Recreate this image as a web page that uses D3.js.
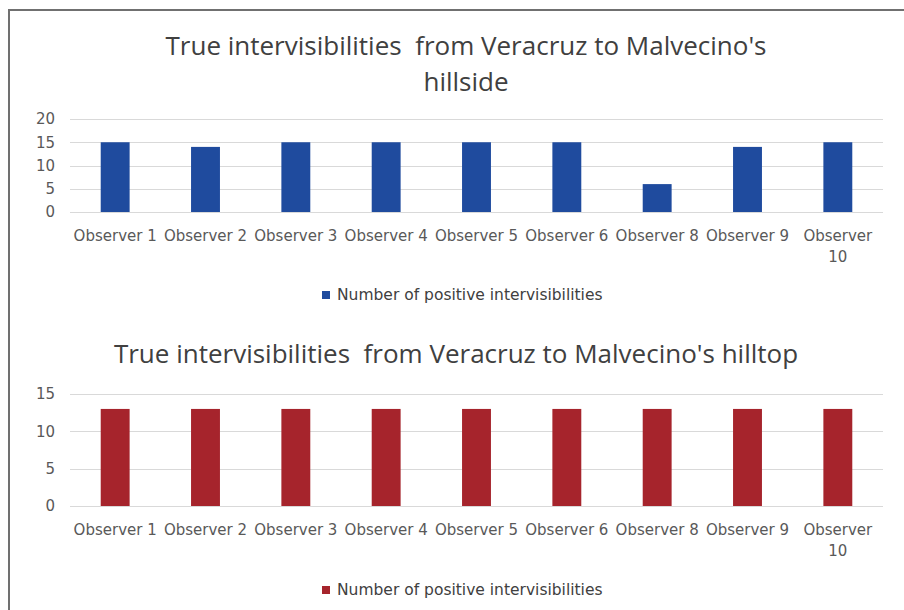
<!DOCTYPE html>
<html lang="en">
<head>
<meta charset="UTF-8">
<title>True intervisibilities from Veracruz to Malvecino</title>
<script src="https://cdnjs.cloudflare.com/ajax/libs/d3/7.8.5/d3.min.js"></script>
<style>
    body { margin: 0; background: #ffffff; }
    svg { display: block; font-family: 'Open Sans', sans-serif; }
    .grid line { stroke: #d9d9d9; stroke-width: 1px; }
    .tick-label { fill: #595959; font-size: 15px; font-family: 'DejaVu Sans', sans-serif; }
    .title { fill: #404040; white-space: pre; }
    .legend-text { fill: #404040; font-size: 15.5px; font-family: 'DejaVu Sans', sans-serif; }
</style>
</head>
<body>
<div id="chart"></div>
<script>
    // categories shared by both charts
    const observers = ["Observer 1", "Observer 2", "Observer 3", "Observer 4", "Observer 5",
                       "Observer 6", "Observer 8", "Observer 9", "Observer 10"];
    const hillsideValues = [15, 14, 15, 15, 15, 15, 6, 14, 15];
    const hilltopValues = [13, 13, 13, 13, 13, 13, 13, 13, 13];
    const hillsideTicks = [0, 5, 10, 15, 20];
    const hilltopTicks = [0, 5, 10, 15];
    const seriesName = "Number of positive intervisibilities";

    const width = 904, height = 610;

    const svg = d3.select("#chart").append("svg")
        .attr("width", width)
        .attr("height", height);

    // outer frame (only left and top edges visible in the picture)
    svg.append("path")
        .attr("d", `M9,${height} L9,10 L${width},10`)
        .attr("fill", "none")
        .attr("stroke", "#707070")
        .attr("stroke-width", 2);

    function drawChart(cfg) {
        const g = svg.append("g");

        // title
        const title = g.append("text")
            .attr("class", "title")
            .attr("text-anchor", "middle")
            .style("font-size", "26px");
        cfg.titleLines.forEach((line, i) => {
            title.append("tspan")
                .attr("x", cfg.titleX)
                .attr("y", cfg.titleY + i * 36)
                .text(line);
        });

        const x = d3.scaleBand()
            .domain(observers)
            .range([70, 883])
            .paddingInner(0.68)
            .paddingOuter(0.34);

        const y = d3.scaleLinear()
            .domain([0, d3.max(cfg.ticks)])
            .range([cfg.y0, cfg.yTop]);

        // gridlines
        g.append("g").attr("class", "grid")
            .selectAll("line")
            .data(cfg.ticks)
            .enter().append("line")
            .attr("x1", 70).attr("x2", 883)
            .attr("y1", d => Math.round(y(d)) + 0.5)
            .attr("y2", d => Math.round(y(d)) + 0.5);

        // y tick labels
        g.append("g").selectAll("text")
            .data(cfg.ticks)
            .enter().append("text")
            .attr("class", "tick-label")
            .attr("x", 55)
            .attr("y", d => y(d))
            .attr("dy", "0.35em")
            .attr("text-anchor", "end")
            .text(d => d);

        // bars
        g.append("g").selectAll("rect")
            .data(cfg.values)
            .enter().append("rect")
            .attr("x", (d, i) => x(observers[i]))
            .attr("width", x.bandwidth())
            .attr("y", d => y(d))
            .attr("height", d => y(0) - y(d))
            .attr("fill", cfg.color);

        // category labels, wrapped when wider than the band step
        const step = x.step();
        const labels = g.append("g").selectAll("text")
            .data(observers)
            .enter().append("text")
            .attr("class", "tick-label")
            .attr("text-anchor", "middle")
            .attr("x", d => x(d) + x.bandwidth() / 2)
            .attr("y", cfg.y0 + 29)
            .text(d => d);

        labels.each(function(d) {
            const t = d3.select(this);
            if (this.getComputedTextLength() > step - 2) {
                const words = d.split(" ");
                const cx = t.attr("x");
                t.text(null);
                t.append("tspan").attr("x", cx).text(words.slice(0, -1).join(" "));
                t.append("tspan").attr("x", cx).attr("dy", 21).text(words[words.length - 1]);
            }
        });

        // legend
        const legend = g.append("g");
        legend.append("rect")
            .attr("x", 322).attr("y", cfg.legendY - 4)
            .attr("width", 8).attr("height", 8)
            .attr("fill", cfg.color);
        legend.append("text")
            .attr("class", "legend-text")
            .attr("x", 337).attr("y", cfg.legendY)
            .attr("dy", "0.35em")
            .text(seriesName);
    }

    drawChart({
        titleLines: ["True intervisibilities  from Veracruz to Malvecino's", "hillside"],
        titleX: 466,
        titleY: 55,
        values: hillsideValues,
        ticks: hillsideTicks,
        y0: 212, yTop: 119,
        color: "#1f4b9e",
        legendY: 295
    });

    drawChart({
        titleLines: ["True intervisibilities  from Veracruz to Malvecino's hilltop"],
        titleX: 456,
        titleY: 363,
        values: hilltopValues,
        ticks: hilltopTicks,
        y0: 506, yTop: 394,
        color: "#a6242c",
        legendY: 590
    });
</script>
</body>
</html>
